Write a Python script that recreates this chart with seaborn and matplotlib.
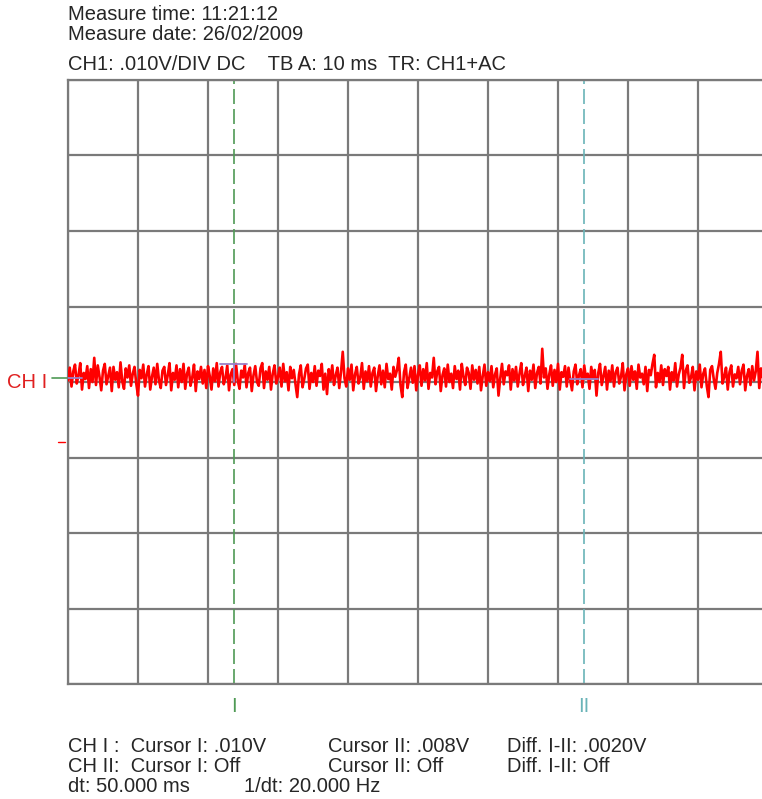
import numpy as np
import pandas as pd
import matplotlib
matplotlib.use('Agg')
import matplotlib.pyplot as plt
import seaborn as sns

# Scope settings (10 ms/div, 10 mV/div)
time_per_div = 10
volt_per_div = 10
n_div_x = 10
n_div_y = 8

# CH1 trace in mV (one sample every 0.25 ms)
trace_mv = [
    0.2, 1.9, -0.6, 1.4, 2.3, -0.2, 0.9, 2.5, -1.0, 1.2, 0.4, 2.1, -0.8, 1.7, 0.0, 3.2, -0.4, 2.2, 0.7, -1.1,
    1.5, 2.4, -0.3, 0.8, 1.9, -1.2, 2.0, 0.3, 1.3, -0.7, 2.6, 0.1, -0.9, 1.8, 0.6, 2.2, -0.5, 1.1, 2.0, -0.2,
    -1.8, 1.6, 0.5, 2.3, -0.6, 1.0, 2.1, -1.0, 0.7, 1.9, -0.3, 2.4, 0.2, -0.8, 1.5, 2.0, -0.4, 0.9, 2.5, -1.1,
    1.2, 0.3, 2.2, -0.7, 1.7, 0.0, 2.4, -0.9, 1.1, 1.9, -0.5, 0.6, 2.3, -1.2, 1.4, 0.4, 2.0, -0.2, 1.6, -0.8,
    2.1, 0.8, -1.0, 1.8, 0.1, 2.5, -0.6, 1.3, 2.0, -0.3, 0.5, 2.2, -1.1, 1.0, 1.7, -0.4, 2.4, 0.2, -0.9, 1.5,
    0.6, 2.3, -0.7, 1.2, 1.9, -1.2, 0.9, 2.1, 0.0, -0.5, 1.8, 2.5, -0.8, 1.4, 0.3, 2.0, -1.0, 1.1, 2.2, -0.2,
    0.7, 1.9, -0.6, 2.4, 0.1, 1.3, -1.1, 2.0, 0.5, 1.6, -0.3, -2.0, 1.0, 2.2, -0.7, 0.4, 1.8, 2.3, -0.9, 1.2,
    0.0, 2.1, -0.5, 1.5, 0.8, 2.4, -1.0, 1.1, -1.6, 1.7, 0.2, 2.2, -0.4, 0.9, 1.9, -0.8, 1.3, 4.0, 0.5, -0.6,
    1.8, 0.3, 2.3, -1.1, 1.0, 2.0, -0.2, 0.6, 2.5, -0.9, 1.4, 0.1, 2.1, -0.6, 1.2, 1.9, -1.2, 0.8, 2.2, -0.3,
    1.5, -0.7, 2.4, 0.4, 1.1, -1.0, 2.0, 0.7, 1.6, 3.2, -0.4, -2.0, 1.3, 2.3, -0.8, 0.5, 1.9, -0.1, 2.1, -1.1,
    1.0, 2.2, -0.5, 1.7, 0.2, 2.5, -0.9, 1.2, 0.6, 3.2, -0.3, 1.4, 2.0, -1.2, 0.9, 1.8, -0.6, 2.3, 0.0, 1.1,
    -0.8, 2.1, 0.4, 1.5, -1.0, 2.4, 0.7, -0.4, 1.9, 1.2, -0.9, 2.2, 0.3, 1.6, -0.2, 2.0, -1.1, 0.8, 2.3, -0.5,
    1.3, 0.1, 2.1, -0.7, 1.0, 1.8, -1.8, 0.5, 2.4, -0.3, 1.4, 0.9, 2.2, -1.0, 1.7, 0.2, 2.0, -0.6, 1.1, 2.5,
    -0.4, 0.8, 1.9, -1.2, 1.5, 0.3, 2.3, -0.8, 1.2, 2.0, -0.2, 4.4, 0.6, 1.8, -0.9, 1.0, 2.2, -0.5, 1.6, 0.0,
    2.4, -1.0, 1.3, 0.7, 2.1, -0.6, 1.9, 0.2, -1.1, 1.4, 2.3, -0.3, 0.9, 1.7, -0.7, 2.2, 0.4, 1.1, -0.9, 2.0,
    0.5, 1.6, -1.8, 1.2, 2.4, -0.4, 0.8, 2.0, -1.0, 1.5, 0.1, 2.2, -0.6, 1.3, 1.9, -0.2, 0.7, 2.5, -1.1, 1.0,
    1.8, -0.5, 2.1, 0.3, 1.4, -0.9, 2.3, 0.6, 1.1, -0.3, 2.0, -1.2, 1.6, 0.9, 2.4, 3.6, -0.7, 1.2, 0.0, 2.2,
    -0.4, 1.7, 0.8, 2.0, -1.0, 1.3, 0.2, 2.5, -0.6, 1.0, 1.9, 3.6, -0.8, 1.5, 2.2, -0.1, 0.6, 2.0, -1.1, 1.4,
    0.3, 2.3, -0.7, 1.1, 1.8, -0.5, -2.0, 1.6, 2.1, 0.4, -0.9, 1.2, 2.4, 4.0, -0.2, 0.7, 1.9, -1.0, 1.3, 2.2,
    -0.6, 1.0, 0.5, 2.0, -0.3, 1.5, 2.3, -1.1, 0.8, 1.7, -0.4, 2.1, 0.2, 1.4, 4.0, -0.8, 1.8, 0.6, 2.2, -0.2,
]
trace_ms = np.arange(len(trace_mv)) * 0.25

# cursors (ms) and level markers (mV)
cursor_ms = [23.7, 73.7]
cursor_names = ['I', 'II']
cursor_colors = ['#4f9a55', '#6ab4b8']
ground_mv = 0.5
trigger_mv = -8.0

header_lines = ['Measure time: 11:21:12', 'Measure date: 26/02/2009']
settings_line = 'CH1: .010V/DIV DC    TB A: 10 ms  TR: CH1+AC'
footer_rows = [
    ['CH I :  Cursor I: .010V', 'Cursor II: .008V', 'Diff. I-II: .0020V'],
    ['CH II:  Cursor I: Off', 'Cursor II: Off', 'Diff. I-II: Off'],
]
footer_last = ['dt: 50.000 ms', '1/dt: 20.000 Hz']

sns.set_theme(style='white')
plt.rcParams['font.family'] = ['Liberation Sans', 'DejaVu Sans']
fs = 14.5

W, H = 762, 799
fig = plt.figure(figsize=(W / 100, H / 100), dpi=100)
ax = fig.add_axes([68 / W, (H - 684) / H, 700 / W, 604 / H])

df = pd.DataFrame({'t': trace_ms, 'v': trace_mv})
sns.lineplot(data=df, x='t', y='v', ax=ax, color='#ff0000', lw=1.9, zorder=3)

ax.set_xlim(0, n_div_x * time_per_div)
ax.set_ylim(-n_div_y / 2 * volt_per_div, n_div_y / 2 * volt_per_div)
ax.set_xticks(np.arange(0, n_div_x * time_per_div + 1, time_per_div))
ax.set_yticks(np.arange(-40, 41, volt_per_div))
ax.grid(True, color='#7a7a7a', lw=1.6)
ax.tick_params(length=0, labelleft=False, labelbottom=False)
ax.set_xlabel('')
ax.set_ylabel('')
for s in ax.spines.values():
    s.set_color('#7a7a7a')
    s.set_linewidth(1.6)

# cursors
for t, name, c in zip(cursor_ms, cursor_names, cursor_colors):
    ax.axvline(t, color=c, lw=1.2, ls=(0, (9, 3)), zorder=2)
    ax.text(t, -43, name, color=c, ha='center', va='center', fontsize=fs, clip_on=False)

# cursor level markers
mk = '#9a80c8'
ax.plot([0, 2.0], [0.5, 0.5], color=mk, lw=1.3, zorder=4)
ax.plot([cursor_ms[0] - 2.0, cursor_ms[0] + 1.9], [2.4, 2.4], color=mk, lw=1.3, zorder=4)
ax.plot([cursor_ms[0], cursor_ms[0]], [2.4, 0.0], color=mk, lw=1.3, zorder=4)
ax.plot([cursor_ms[1] - 2.0, cursor_ms[1] + 2.0], [0.4, 0.4], color=mk, lw=1.3, zorder=4)

# channel markers left of the screen
ax.plot([-2.3, 0], [ground_mv, ground_mv], color='#4f9a55', lw=1.2, clip_on=False)
ax.plot([-1.4, -0.5], [trigger_mv, trigger_mv], color='#ff0000', lw=1.0, clip_on=False)
ax.text(-3.0, 0.0, 'CH I', color='#e02020', ha='right', va='center', fontsize=fs, clip_on=False)

# header / footer text
fig.text(68 / W, 1 - 15 / H, header_lines[0], fontsize=fs, va='center')
fig.text(68 / W, 1 - 35 / H, header_lines[1], fontsize=fs, va='center')
fig.text(68 / W, 1 - 64 / H, settings_line, fontsize=fs, va='center')
cols = [68, 328, 507]
for i, row in enumerate(footer_rows):
    for x, s in zip(cols, row):
        fig.text(x / W, 1 - (746 + 20 * i) / H, s, fontsize=fs, va='center')
fig.text(68 / W, 1 - 786 / H, footer_last[0], fontsize=fs, va='center')
fig.text(244 / W, 1 - 786 / H, footer_last[1], fontsize=fs, va='center')

fig.savefig('out.png', dpi=100)
